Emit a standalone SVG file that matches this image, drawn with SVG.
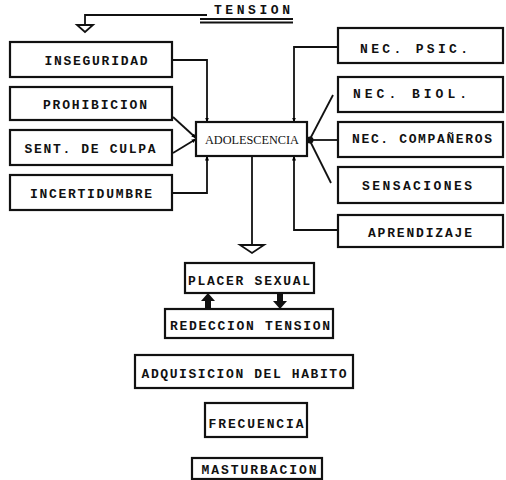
<svg xmlns="http://www.w3.org/2000/svg" width="506" height="480" viewBox="0 0 506 480">
<defs>
<marker id="ah" viewBox="0 0 10 10" refX="9" refY="5" markerWidth="5" markerHeight="5" orient="auto" markerUnits="userSpaceOnUse">
<path d="M0,1 L10,5 L0,9 z" fill="#000"/>
</marker>
</defs>
<style>
.box{fill:#fff;stroke:#111;stroke-width:2.2}
.t{font-family:"Liberation Mono",monospace;font-weight:bold;font-size:13px;fill:#111;text-anchor:middle}
.s{font-family:"Liberation Serif",serif;font-size:12.3px;fill:#111;text-anchor:middle}
.c{fill:none;stroke:#111;stroke-width:1.8}
.ca{fill:none;stroke:#111;stroke-width:1.8;marker-end:url(#ah)}
.hollow{fill:#fff;stroke:#111;stroke-width:1.8}
</style>
<rect width="506" height="480" fill="#fff"/>

<g id="connectors">
<polyline class="c" points="207,15 85,15 85,25"/>
<polygon class="hollow" points="77,25 93,25 85,32"/>
<line class="c" x1="200" y1="19" x2="293" y2="19"/>
<line class="c" x1="200" y1="22.5" x2="293" y2="22.5"/>
<polyline class="ca" points="172,60 207,60 207,122"/>
<polyline class="ca" points="172,193 207,193 207,156"/>
<line class="ca" x1="173" y1="117" x2="196" y2="138"/>
<line class="ca" x1="173" y1="153" x2="196" y2="139"/>
<polyline class="ca" points="338,47 294,47 294,122"/>
<polyline class="ca" points="338,230 294,230 294,156"/>
<line class="c" x1="333" y1="95" x2="310" y2="139"/>
<line class="c" x1="338" y1="140" x2="310" y2="140"/>
<line class="c" x1="331" y1="183" x2="310" y2="141"/>
<circle cx="310" cy="140" r="3.5" fill="#111"/>
<line class="c" x1="252" y1="156" x2="252" y2="245"/>
<polygon class="hollow" points="240,245 264,245 252,253"/>
<polygon fill="#111" points="205,309 211,309 211,301 215,301 208,293 201,301 205,301"/>
<polygon fill="#111" points="277,293 283,293 283,301 287,301 280,309 273,301 277,301"/>
</g>

<g id="tension"><text class="t" x="252" y="14" font-size="11" textLength="76" lengthAdjust="spacing">TENSION</text></g>

<g id="inseguridad"><rect class="box" x="10" y="42" width="162" height="35"/><text class="t" x="96" y="65" textLength="103" lengthAdjust="spacing">INSEGURIDAD</text></g>
<g id="prohibicion"><rect class="box" x="10" y="87" width="162" height="33"/><text class="t" x="95" y="109" textLength="104" lengthAdjust="spacing">PROHIBICION</text></g>
<g id="culpa"><rect class="box" x="10" y="130" width="162" height="35"/><text class="t" x="90" y="153" textLength="131" lengthAdjust="spacing">SENT. DE CULPA</text></g>
<g id="incertidumbre"><rect class="box" x="10" y="175" width="162" height="35"/><text class="t" x="91" y="198" textLength="122" lengthAdjust="spacing">INCERTIDUMBRE</text></g>

<g id="adolescencia"><rect class="box" x="196" y="122" width="111" height="34"/><text class="s" x="252" y="144" textLength="94" lengthAdjust="spacing">ADOLESCENCIA</text></g>

<g id="psic"><rect class="box" x="338" y="28" width="165" height="35"/><text class="t" x="414" y="53" textLength="108" lengthAdjust="spacing">NEC. PSIC.</text></g>
<g id="biol"><rect class="box" x="338" y="77" width="165" height="35"/><text class="t" x="410" y="98" textLength="114" lengthAdjust="spacing">NEC. BIOL.</text></g>
<g id="companeros"><rect class="box" x="338" y="122" width="165" height="35"/><text class="t" x="422" y="143" textLength="140" lengthAdjust="spacing">NEC. COMPAÑEROS</text></g>
<g id="sensaciones"><rect class="box" x="338" y="167" width="165" height="36"/><text class="t" x="417" y="190" textLength="110" lengthAdjust="spacing">SENSACIONES</text></g>
<g id="aprendizaje"><rect class="box" x="338" y="215" width="165" height="32"/><text class="t" x="420" y="237" textLength="104" lengthAdjust="spacing">APRENDIZAJE</text></g>

<g id="placer"><rect class="box" x="185" y="263" width="129" height="30"/><text class="t" x="249" y="285" textLength="122" lengthAdjust="spacing">PLACER SEXUAL</text></g>
<g id="reduccion"><rect class="box" x="165" y="309" width="168" height="29"/><text class="t" x="250" y="330" textLength="160" lengthAdjust="spacing">REDECCION TENSION</text></g>
<g id="habito"><rect class="box" x="135" y="355" width="218" height="33"/><text class="t" x="244" y="378" textLength="205" lengthAdjust="spacing">ADQUISICION DEL HABITO</text></g>
<g id="frecuencia"><rect class="box" x="205" y="403" width="102" height="34"/><text class="t" x="256" y="428" textLength="95" lengthAdjust="spacing">FRECUENCIA</text></g>
<g id="masturbacion"><rect class="box" x="192" y="458" width="130" height="21"/><text class="t" x="259" y="474" textLength="115" lengthAdjust="spacing">MASTURBACION</text></g>
</svg>
